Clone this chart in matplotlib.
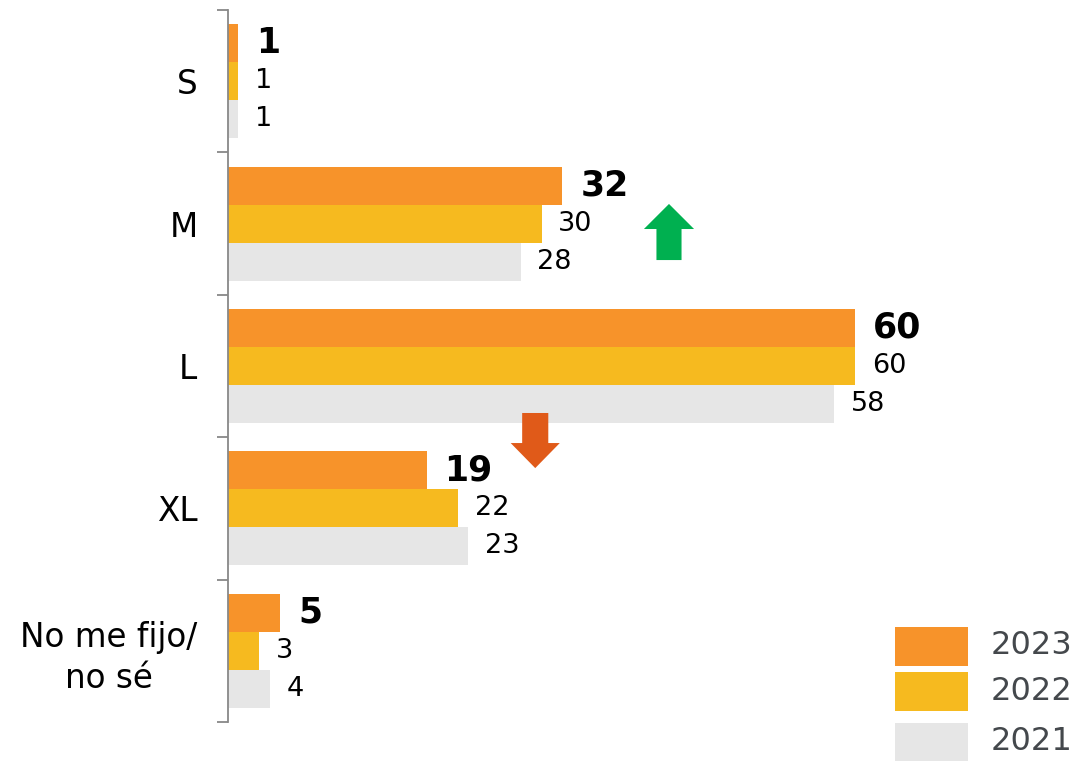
import matplotlib.pyplot as plt
import numpy as np
from matplotlib.patches import Polygon, Rectangle

plt.rcParams['font.family'] = ['DejaVu Sans']

categories = ["S", "M", "L", "XL", "No me fijo/\nno sé"]
years = ["2023", "2022", "2021"]
vals_2023 = [1, 32, 60, 19, 5]
vals_2022 = [1, 30, 60, 22, 3]
vals_2021 = [1, 28, 58, 23, 4]
colors = ["#F7932A", "#F6BA1F", "#E6E6E6"]

W, H = 1079, 761
fig = plt.figure(figsize=(W / 100, H / 100), dpi=100)
ax = fig.add_axes([228 / W, 1 - 722 / H, (W - 228) / W, 712 / H])

y = np.arange(len(categories))
bh = 0.267
series = [vals_2023, vals_2022, vals_2021]
for i, (vals, c) in enumerate(zip(series, colors)):
    pos = y + (i - 1) * bh
    ax.barh(pos, vals, height=bh, color=c, edgecolor='none')
    for p, v in zip(pos, vals):
        if i == 0:
            ax.annotate(str(v), (v, p), xytext=(13, 0), textcoords='offset points',
                        va='center', ha='left', fontsize=25, fontweight='bold', color='black')
        else:
            ax.annotate(str(v), (v, p), xytext=(12, 0), textcoords='offset points',
                        va='center', ha='left', fontsize=19.5, color='black')

ax.set_xlim(0, (W - 228) / 10.45)
ax.set_ylim(4.5, -0.5)

for s in ['top', 'right', 'bottom']:
    ax.spines[s].set_visible(False)
ax.spines['left'].set_color('#888888')
ax.spines['left'].set_linewidth(1.3)
ax.set_xticks([])
ax.set_yticks(y)
ax.set_yticklabels(categories, fontsize=23.5, multialignment='center', linespacing=1.3)
ax.tick_params(axis='y', which='major', length=0, pad=22)
ax.set_yticks(np.arange(-0.5, 5, 1), minor=True)
ax.tick_params(axis='y', which='minor', length=8, width=1.3, color='#888888')


def arrow(xc, top, base, tip, head_w, shaft_w, color):
    # block arrow in data units: shaft between top and base, head from base to tip
    hw, sw = head_w / 2, shaft_w / 2
    pts = [(xc - sw, top), (xc + sw, top), (xc + sw, base), (xc + hw, base),
           (xc, tip), (xc - hw, base), (xc - sw, base)]
    ax.add_patch(Polygon(pts, closed=True, facecolor=color, edgecolor='none'))


arrow(42.2, 1.256, 1.038, 0.862, 4.8, 2.4, "#00B050")
arrow(29.4, 2.330, 2.541, 2.717, 4.7, 2.5, "#E05A19")

# legend drawn by hand in pixel positions
for k, (yr, c) in enumerate(zip(years, colors)):
    top = [627, 672, 723][k]
    fig.patches.append(Rectangle((895 / W, 1 - (top + 39) / H), 73 / W, 39 / H,
                                 transform=fig.transFigure, facecolor=c, edgecolor='none'))
    fig.text(991 / W, 1 - (top + 19) / H, yr, fontsize=23, color='#44484C',
             va='center', ha='left')

fig.savefig("out.png", dpi=100)
